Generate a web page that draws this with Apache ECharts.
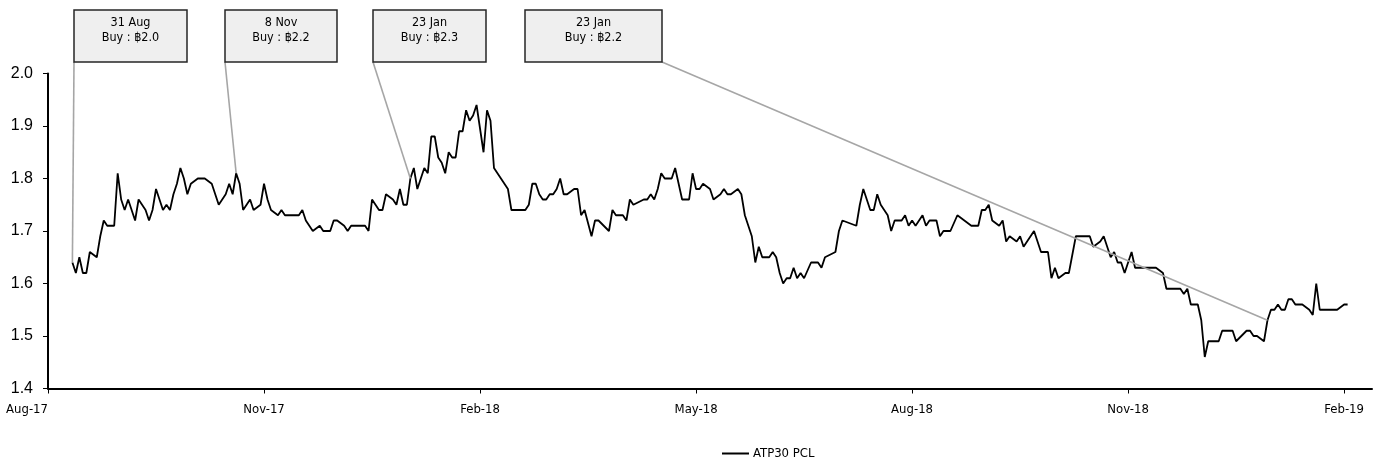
<!DOCTYPE html>
<html>
<head>
<meta charset="utf-8">
<script src="https://cdn.jsdelivr.net/npm/echarts@6/dist/echarts.min.js"></script>
<style>
html,body{margin:0;padding:0;background:#fff;}
#chart{width:1389px;height:463px;}
</style>
</head>
<body>
<div id="chart"></div>
<script>
// Trading-day index (x) and closing price (y)
const dayIdx = [7,8,9,10,11,12,14,15,16,17,19,20,21,22,23,24,25,26,27,28,29,30,31,33,34,35,36,37,38,39,40,41,43,45,47,49,51,52,53,54,55,56,58,59,61,62,63,64,66,67,68,72,73,74,76,78,79,81,82,83,85,86,87,91,92,93,94,95,96,97,99,100,101,102,103,104,105,106,108,109,110,111,112,113,114,115,116,117,118,119,120,121,122,123,125,126,127,128,129,130,132,133,137,138,139,140,141,142,143,144,145,146,147,148,149,151,152,153,154,156,157,158,161,162,163,165,166,167,168,171,172,173,174,175,176,177,179,180,182,184,185,186,187,188,190,191,193,194,195,196,198,199,200,201,202,203,204,205,207,208,209,210,211,212,213,214,215,216,217,219,221,222,223,226,227,228,232,233,234,236,237,238,239,241,242,243,245,246,247,248,249,250,251,252,253,255,256,257,259,261,263,265,267,268,269,270,271,273,274,275,276,278,279,280,283,285,287,288,289,290,292,293,295,299,300,302,303,304,305,306,307,308,309,310,311,312,318,320,321,325,326,327,328,330,331,332,333,336,337,340,341,344,345,346,347,349,350,351,352,353,354,355,356,357,358,360,362,363,364,365,370,372,373];
const price = [1.64,1.62,1.65,1.62,1.62,1.66,1.65,1.69,1.72,1.71,1.71,1.81,1.76,1.74,1.76,1.74,1.72,1.76,1.75,1.74,1.72,1.74,1.78,1.74,1.75,1.74,1.77,1.79,1.82,1.80,1.77,1.79,1.80,1.80,1.79,1.75,1.77,1.79,1.77,1.81,1.79,1.74,1.76,1.74,1.75,1.79,1.76,1.74,1.73,1.74,1.73,1.73,1.74,1.72,1.70,1.71,1.70,1.70,1.72,1.72,1.71,1.70,1.71,1.71,1.70,1.76,1.75,1.74,1.74,1.77,1.76,1.75,1.78,1.75,1.75,1.80,1.82,1.78,1.82,1.81,1.88,1.88,1.84,1.83,1.81,1.85,1.84,1.84,1.89,1.89,1.93,1.91,1.92,1.94,1.85,1.93,1.91,1.82,1.81,1.80,1.78,1.74,1.74,1.75,1.79,1.79,1.77,1.76,1.76,1.77,1.77,1.78,1.80,1.77,1.77,1.78,1.78,1.73,1.74,1.69,1.72,1.72,1.70,1.74,1.73,1.73,1.72,1.76,1.75,1.76,1.76,1.77,1.76,1.78,1.81,1.80,1.80,1.82,1.76,1.76,1.81,1.78,1.78,1.79,1.78,1.76,1.77,1.78,1.77,1.77,1.78,1.77,1.73,1.71,1.69,1.64,1.67,1.65,1.65,1.66,1.65,1.62,1.60,1.61,1.61,1.63,1.61,1.62,1.61,1.64,1.64,1.63,1.65,1.66,1.70,1.72,1.71,1.75,1.78,1.74,1.74,1.77,1.75,1.73,1.70,1.72,1.72,1.73,1.71,1.72,1.71,1.72,1.73,1.71,1.72,1.72,1.69,1.70,1.70,1.73,1.72,1.71,1.71,1.74,1.74,1.75,1.72,1.71,1.72,1.68,1.69,1.68,1.69,1.67,1.70,1.66,1.66,1.61,1.63,1.61,1.62,1.62,1.69,1.69,1.67,1.68,1.69,1.67,1.65,1.66,1.64,1.64,1.62,1.64,1.66,1.63,1.63,1.62,1.59,1.59,1.58,1.59,1.56,1.56,1.53,1.46,1.49,1.49,1.51,1.51,1.49,1.51,1.51,1.50,1.50,1.49,1.53,1.55,1.55,1.56,1.55,1.55,1.57,1.57,1.56,1.56,1.55,1.54,1.60,1.55,1.55,1.56,1.56];

// X-axis tick labels (one every 62 trading days)
const tickLabels = ['Aug-17','Nov-17','Feb-18','May-18','Aug-18','Nov-18','Feb-19'];
const tickStep = 62;
const tickValues = tickLabels.map((_, i) => i * tickStep);

// Y-axis
const yMin = 1.4, yMax = 2.0, yStep = 0.1;

// Annotations
const annoDates = ['31 Aug','8 Nov','23 Jan','23 Jan'];
const annoPrices = ['฿2.0','฿2.2','฿2.3','฿2.2'];
const annoIdx = [7, 54, 104, 350];

const seriesName = 'ATP30 PCL';
const FONT = "'DejaVu Sans Condensed','DejaVu Sans',sans-serif";
const YFONT = "'Liberation Sans',Arial,sans-serif";

const chart = echarts.init(document.getElementById('chart'), null, {renderer:'canvas'});

const data = dayIdx.map((d, i) => [d, price[i]]);

chart.setOption({
  animation: false,
  backgroundColor: '#fff',
  grid: {left: 48, right: 17, top: 73.5, bottom: 74.5, containLabel: false, outerBoundsMode: 'none'},
  xAxis: {
    type: 'value', min: 0, max: 380, interval: tickStep,
    axisLine: {show: true, onZero: false, lineStyle: {color: '#000', width: 2}},
    axisTick: {show: true, length: 5, customValues: tickValues, lineStyle: {color: '#000', width: 1}},
    axisLabel: {
      customValues: tickValues,
      margin: 15, color: '#000', fontFamily: FONT, fontSize: 13,
      alignMinLabel: 'right',
      formatter: v => { const k = Math.round(v / tickStep); return (Math.abs(v - k * tickStep) < 1e-6 && tickLabels[k]) ? tickLabels[k] : ''; }
    },
    splitLine: {show: false}
  },
  yAxis: {
    type: 'value', min: yMin, max: yMax, interval: yStep,
    axisLine: {show: true, lineStyle: {color: '#000', width: 2}},
    axisTick: {show: true, length: 5, lineStyle: {color: '#000', width: 1}},
    axisLabel: {margin: 15, color: '#000', fontFamily: YFONT, fontSize: 16, formatter: v => v.toFixed(1)},
    splitLine: {show: false}
  },
  legend: {
    data: [{name: seriesName, icon: 'rect'}], left: 717, top: 442,
    itemWidth: 27, itemHeight: 2, itemGap: 6,
    textStyle: {color: '#000', fontFamily: FONT, fontSize: 13, padding: [0, 0, 0, -1]}
  },
  series: [{
    name: seriesName, type: 'line', data: data,
    symbol: 'none', showSymbol: false,
    lineStyle: {color: '#000', width: 1.8},
    itemStyle: {color: '#000'},
    z: 2
  }]
});

// Annotation boxes (layout) and leader lines to data points
const boxes = [[74, 187], [225, 337], [373, 486], [525, 662]];
const boxTop = 10, boxBottom = 62;
const anchorRight = [false, false, false, true];
const graphics = [];
annoIdx.forEach((idx, i) => {
  const j = dayIdx.indexOf(idx);
  const p = chart.convertToPixel({seriesIndex: 0}, [idx, price[j]]);
  const [bx0, bx1] = boxes[i];
  const sx = anchorRight[i] ? bx1 : bx0;
  graphics.push({type: 'line', z: 50, silent: true,
    shape: {x1: sx, y1: boxBottom, x2: p[0], y2: p[1]},
    style: {stroke: '#a6a6a6', lineWidth: 1.6}});
  graphics.push({type: 'rect', z: 60, silent: true,
    shape: {x: bx0, y: boxTop, width: bx1 - bx0, height: boxBottom - boxTop},
    style: {fill: '#efefef', stroke: '#262626', lineWidth: 1.5}});
  graphics.push({type: 'text', z: 61, silent: true,
    x: (bx0 + bx1) / 2, y: boxTop + 5,
    style: {text: annoDates[i] + '\nBuy : ' + annoPrices[i], align: 'center', verticalAlign: 'top',
      fill: '#000', font: '12.5px ' + FONT, lineHeight: 15}});
});
chart.setOption({graphic: graphics});
</script>
</body>
</html>
